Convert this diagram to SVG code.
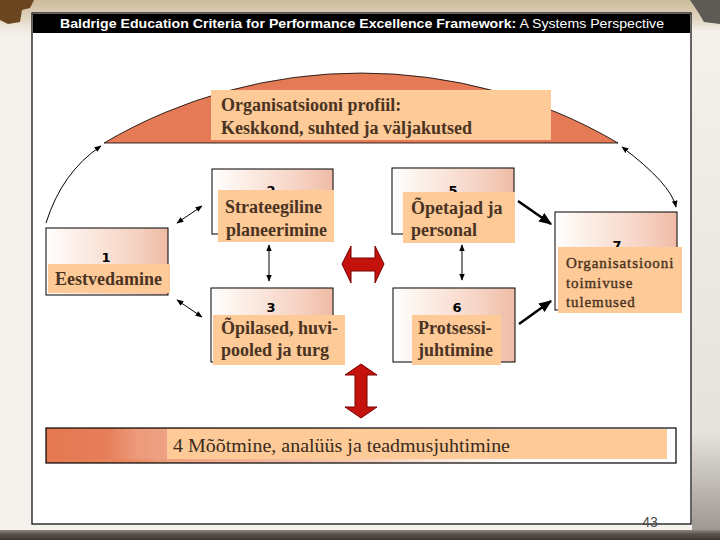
<svg xmlns="http://www.w3.org/2000/svg" width="720" height="540" viewBox="0 0 720 540">
<defs>
<style>
.lbl{fill:#FDCA98}
.box{fill:url(#boxg);stroke:#000;stroke-width:1}
.t{font-family:"Liberation Serif","Times New Roman",serif;font-weight:bold;font-size:18px;fill:#4A3322}
.t7{font-family:"Liberation Serif","Times New Roman",serif;font-weight:normal;font-size:15px;fill:#4A3322;stroke:#4A3322;stroke-width:0.4px;letter-spacing:0.9px}
.num{font-family:"DejaVu Sans",sans-serif;font-weight:bold;font-size:13px;fill:#000;text-anchor:middle}
.c{fill:none;stroke:#000;stroke-width:1}
.ck{fill:none;stroke:#000;stroke-width:2.5}
.red{fill:#C4120C;stroke:#7A0000;stroke-width:1}
</style>
<linearGradient id="boxg" x1="0" y1="0" x2="1" y2="0">
<stop offset="0" stop-color="#FFFFFF"/>
<stop offset="0.2" stop-color="#FDF2EC"/>
<stop offset="0.7" stop-color="#F6D4C5"/>
<stop offset="1" stop-color="#EFBBA5"/>
</linearGradient>
<linearGradient id="bgtop" x1="0" y1="0" x2="0" y2="1">
<stop offset="0" stop-color="#CDBB9A"/>
<stop offset="0.5" stop-color="#E2D7C4"/>
<stop offset="1" stop-color="#F4F0EA" stop-opacity="0"/>
</linearGradient>
<linearGradient id="bgbot" x1="0" y1="0" x2="0" y2="1">
<stop offset="0" stop-color="#8E8781"/>
<stop offset="0.4" stop-color="#5A524C"/>
<stop offset="1" stop-color="#3E3834"/>
</linearGradient>
<linearGradient id="bgright" x1="0" y1="0" x2="0" y2="1">
<stop offset="0" stop-color="#F4F1EC"/>
<stop offset="0.8" stop-color="#E6E2DE"/>
<stop offset="1" stop-color="#9C9690"/>
</linearGradient>
<linearGradient id="barg" x1="0" y1="0" x2="1" y2="0">
<stop offset="0" stop-color="#E47852"/>
<stop offset="0.12" stop-color="#E8865F"/>
<stop offset="0.2" stop-color="#EDA080"/>
<stop offset="0.5" stop-color="#F7CDB5"/>
<stop offset="0.75" stop-color="#FFFFFF"/>
<stop offset="1" stop-color="#FFFFFF"/>
</linearGradient>
<linearGradient id="barl" x1="0" y1="0" x2="1" y2="0">
<stop offset="0" stop-color="#E47852"/>
<stop offset="0.5" stop-color="#E67E59"/>
<stop offset="0.75" stop-color="#EC9A7A"/>
<stop offset="1" stop-color="#EEA385"/>
</linearGradient>
<marker id="ah" viewBox="0 0 10 10" refX="9" refY="5" markerWidth="7" markerHeight="7" markerUnits="userSpaceOnUse" orient="auto-start-reverse">
<path d="M0,1 L10,5 L0,9 Z" fill="#000"/>
</marker>
<marker id="ahk" viewBox="0 0 10 10" refX="9" refY="5" markerWidth="13" markerHeight="13" markerUnits="userSpaceOnUse" orient="auto">
<path d="M0,1 L10,5 L0,9 Z" fill="#000"/>
</marker>
</defs>

<!-- slide background -->
<rect x="0" y="0" width="720" height="540" fill="#F5F2ED"/>
<rect x="0" y="0" width="720" height="40" fill="url(#bgtop)"/>
<path d="M0,0 L34,0 L30,8 L22,10 L20,22 L8,24 L0,20 Z" fill="#6B4420"/>
<path d="M690,0 L720,0 L720,24 L704,22 L698,12 Z" fill="#5E5A56"/>
<rect x="692" y="30" width="28" height="502" fill="url(#bgright)"/>
<rect x="0" y="530" width="720" height="10" fill="url(#bgbot)"/>

<!-- frame -->
<rect x="32" y="13" width="659" height="511" fill="#FFFFFF" stroke="#000" stroke-width="1.2"/>
<rect x="33" y="14" width="657" height="19" fill="#000"/>
<text x="362" y="28" text-anchor="middle" textLength="604" lengthAdjust="spacingAndGlyphs" font-family="Liberation Sans, Arial, sans-serif" font-size="13.5" fill="#FFFFFF"><tspan font-weight="bold">Baldrige Education Criteria for Performance Excellence Framework:</tspan> A Systems Perspective</text>

<!-- profile dome -->
<g id="node-profile">
<path d="M104,143 A507,507 0 0 1 618,143 Z" fill="#E47B56" stroke="#000" stroke-width="0.8"/>
<rect class="lbl" x="211" y="90" width="340" height="50"/>
<text class="t" x="221" y="111">Organisatsiooni profiil:</text>
<text class="t" x="221" y="134">Keskkond, suhted ja väljakutsed</text>
</g>

<!-- node 1 -->
<g id="node-1">
<rect class="box" x="46" y="228" width="122" height="67"/>
<text class="num" x="106" y="262" font-size="14">1</text>
<rect class="lbl" x="48" y="264" width="122" height="29"/>
<text class="t" x="55" y="285">Eestvedamine</text>
</g>

<!-- node 2 -->
<g id="node-2">
<rect class="box" x="212" y="169" width="121" height="65"/>
<text class="num" x="271" y="195">2</text>
<rect class="lbl" x="218" y="190" width="116" height="52"/>
<text class="t" x="225" y="213">Strateegiline</text>
<text class="t" x="226" y="236">planeerimine</text>
</g>

<!-- node 3 -->
<g id="node-3">
<rect class="box" x="211" y="288" width="122" height="74"/>
<text class="num" x="271" y="312">3</text>
<rect class="lbl" x="213" y="315" width="132" height="50"/>
<text class="t" x="221" y="334">Õpilased, huvi-</text>
<text class="t" x="221" y="356">pooled ja turg</text>
</g>

<!-- node 5 -->
<g id="node-5">
<rect class="box" x="392" y="168" width="122" height="66"/>
<text class="num" x="453" y="195">5</text>
<rect class="lbl" x="403" y="192" width="112" height="51"/>
<text class="t" x="411" y="214">Õpetajad ja</text>
<text class="t" x="411" y="236">personal</text>
</g>

<!-- node 6 -->
<g id="node-6">
<rect class="box" x="393" y="288" width="122" height="74"/>
<text class="num" x="457" y="312">6</text>
<rect class="lbl" x="412" y="315" width="89" height="50"/>
<text class="t" x="418" y="334">Protsessi-</text>
<text class="t" x="418" y="356">juhtimine</text>
</g>

<!-- node 7 -->
<g id="node-7">
<rect class="box" x="555" y="212" width="122" height="98"/>
<text class="num" x="617" y="250">7</text>
<rect class="lbl" x="558" y="247" width="124" height="66"/>
<text class="t7" x="566" y="268">Organisatsiooni</text>
<text class="t7" x="566" y="288">toimivuse</text>
<text class="t7" x="566" y="307">tulemused</text>
</g>

<!-- node 4 bar -->
<g id="node-4">
<rect x="46" y="428" width="630" height="35" fill="url(#barg)" stroke="#000" stroke-width="1.2"/>
<rect x="47" y="429" width="120" height="30" fill="url(#barl)"/>
<rect class="lbl" x="167" y="429" width="500" height="30"/>
<text x="173" y="452" textLength="337" lengthAdjust="spacingAndGlyphs" font-family="Liberation Serif, Times New Roman, serif" font-size="19" fill="#3A2A1C">4 Mõõtmine, analüüs ja teadmusjuhtimine</text>
</g>

<!-- connectors -->
<g id="connectors">
<path class="c" d="M46,223 Q62,172 101,146" marker-end="url(#ah)"/>
<path class="c" d="M622,147 Q671,184 676,207" marker-start="url(#ah)" marker-end="url(#ah)"/>
<path class="c" d="M177,223 L202,206" marker-start="url(#ah)" marker-end="url(#ah)"/>
<path class="c" d="M177,300 L202,317" marker-start="url(#ah)" marker-end="url(#ah)"/>
<path class="c" d="M269,245 L269,281" marker-start="url(#ah)" marker-end="url(#ah)"/>
<path class="c" d="M462,245 L462,280" marker-start="url(#ah)" marker-end="url(#ah)"/>
<path class="ck" d="M518,201 L551,224" marker-end="url(#ahk)"/>
<path class="ck" d="M519,324 L551,301" marker-end="url(#ahk)"/>
<path class="red" d="M342,264 L351,246 L351,258 L375,258 L375,246 L384,264 L375,283 L375,271 L351,271 L351,283 Z"/>
<path class="red" d="M361,364 L377,375 L367,375 L367,407 L377,407 L361,418 L345,407 L355,407 L355,375 L345,375 Z"/>
</g>

<text x="650" y="527" text-anchor="middle" font-family="Liberation Sans, Arial, sans-serif" font-size="14" fill="#4A4A4A">43</text>
</svg>
